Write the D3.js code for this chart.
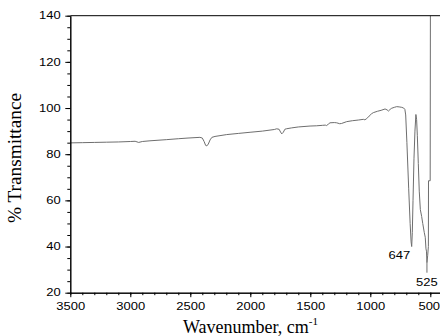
<!DOCTYPE html>
<meta charset="utf-8">
<head>
  <title>IR spectrum</title>
</head>
<style>
body { margin: 0; background: #fff; }
.axis text { font-family: "Liberation Sans", Arial, sans-serif; font-size: 10px; fill: #000; }
.axis path, .axis line { stroke: #000; }
.title { font-family: "Liberation Serif", "Times New Roman", serif; fill: #000; }
.peak { font-family: "Liberation Sans", Arial, sans-serif; font-size: 10px; fill: #000; }
</style>
<body>
<svg width="440" height="336"></svg>

<script src="https://cdnjs.cloudflare.com/ajax/libs/d3/7.8.5/d3.min.js"></script>
<script>
  // spectrum
  var wavenumber = [
    3500, 3400, 3300, 3200, 3100, 3000, 2960, 2930, 2900, 2836,
    2700, 2600, 2519, 2420, 2400, 2385, 2372, 2362, 2350, 2335,
    2320, 2294, 2197, 2100, 2002, 1900, 1800, 1780, 1760, 1748,
    1738, 1725, 1712, 1700, 1655, 1600, 1502, 1450, 1400, 1375,
    1365, 1350, 1336, 1300, 1280, 1255, 1240, 1197, 1150, 1100,
    1058, 1045, 1030, 1010, 990, 975, 940, 910, 877, 860,
    849, 835, 822, 800, 780, 760, 738, 722, 712, 705,
    695, 680, 668, 660, 655, 650, 644, 636, 628, 620,
    614, 608, 600, 592, 583, 572, 563, 550, 542, 536,
    532, 528, 522, 516, 515, 501, 499
  ];
  var transmittance = [
    84.9, 85.0, 85.1, 85.2, 85.3, 85.5, 85.6, 85.1, 85.5, 85.8,
    86.3, 86.7, 87.0, 87.3, 87.0, 85.5, 83.8, 83.6, 84.4, 86.2,
    87.3, 87.7, 88.5, 89.0, 89.5, 90.0, 90.7, 91.0, 90.8, 89.6,
    88.8, 89.5, 90.8, 91.0, 91.4, 91.8, 92.2, 92.3, 92.5, 92.6,
    92.4, 93.0, 93.6, 93.7, 93.6, 93.2, 93.3, 94.1, 94.5, 94.8,
    95.1, 94.9, 95.4, 96.5, 97.5, 98.0, 98.6, 99.0, 99.6, 99.2,
    98.7, 99.4, 99.9, 100.3, 100.6, 100.5, 100.3, 100.0, 99.4, 97.0,
    85, 65, 50, 42, 40, 46, 60, 78, 90, 97.2,
    95, 88, 76, 64, 56, 53, 50, 46, 44, 39,
    38, 33, 36, 40, 68.5, 68.5, 150
  ];

  var xTicks = [3500, 3000, 2500, 2000, 1500, 1000, 500];
  var yTicks = [20, 40, 60, 80, 100, 120, 140];
  var peakText = ["647", "525"];
  var peakWave = [655, 528];
  var peakValue = [40, 33];

  var svg = d3.select("svg");

  var x = d3.scaleLinear().domain([3500, 400]).range([70.3, 442.3]);
  var y = d3.scaleLinear().domain([20, 140]).range([292.7, 15.7]);

  svg.append("clipPath").attr("id", "plot")
    .append("rect")
    .attr("x", x(3500)).attr("y", y(140))
    .attr("width", 440 - x(3500)).attr("height", y(20) - y(140));

  // spectrum
  var pts = wavenumber.map(function(w, i) { return [w, transmittance[i]]; });
  var line = d3.line().x(function(d) { return x(d[0]); }).y(function(d) { return y(d[1]); });
  svg.append("path")
    .datum(pts)
    .attr("clip-path", "url(#plot)")
    .attr("d", line)
    .attr("fill", "none")
    .attr("stroke", "#6e6e6e")
    .attr("stroke-width", 1);

  // minor ticks
  svg.append("g").attr("class", "axis")
    .attr("transform", "translate(0," + y(20) + ")")
    .call(d3.axisBottom(x).tickValues(d3.range(3500, 399, -100)).tickSize(2.5).tickSizeOuter(0).tickFormat(""));
  svg.append("g").attr("class", "axis")
    .attr("transform", "translate(" + x(3500) + ",0)")
    .call(d3.axisLeft(y).tickValues(d3.range(20, 141, 5)).tickSize(3).tickSizeOuter(0).tickFormat(""));

  // major ticks
  var xAxis = svg.append("g").attr("class", "axis")
    .attr("transform", "translate(0," + y(20) + ")")
    .call(d3.axisBottom(x).tickValues(xTicks).tickSize(4.5).tickSizeOuter(0).tickFormat(d3.format("d")));
  xAxis.selectAll("text").attr("y", 17).attr("dy", null).attr("transform", "scale(1.3,1)")
    .attr("x", function(d) { return d === 500 ? -1.2 : 0; });

  var yAxis = svg.append("g").attr("class", "axis")
    .attr("transform", "translate(" + x(3500) + ",0)")
    .call(d3.axisLeft(y).tickValues(yTicks).tickSize(5).tickSizeOuter(0).tickFormat(d3.format("d")));
  yAxis.selectAll("text").attr("x", -7.4).attr("transform", "scale(1.3,1)");

  // top frame line
  svg.append("line")
    .attr("x1", x(3500)).attr("x2", 440)
    .attr("y1", y(140)).attr("y2", y(140))
    .attr("stroke", "#000");

  // axis titles
  svg.append("text").attr("class", "title")
    .attr("transform", "translate(21,158) rotate(-90)")
    .attr("text-anchor", "middle")
    .attr("font-size", 18)
    .attr("textLength", 130)
    .attr("lengthAdjust", "spacingAndGlyphs")
    .text("% Transmittance");

  var xt = svg.append("text").attr("class", "title")
    .attr("x", 183).attr("y", 333)
    .attr("font-size", 18);
  xt.append("tspan").text("Wavenumber, cm");
  xt.append("tspan").attr("font-size", 11).attr("dy", -8).text("-1");

  // peak labels
  svg.append("text").attr("class", "peak")
    .attr("text-anchor", "end")
    .attr("transform", "translate(" + (x(peakWave[0]) - 1.5) + "," + (y(peakValue[0]) + 12) + ") scale(1.3,1)")
    .text(peakText[0]);

  svg.append("line")
    .attr("x1", x(peakWave[1])).attr("x2", x(peakWave[1]))
    .attr("y1", y(peakValue[1])).attr("y2", y(peakValue[1]) + 10)
    .attr("stroke", "#6e6e6e");
  svg.append("text").attr("class", "peak")
    .attr("text-anchor", "middle")
    .attr("transform", "translate(" + x(peakWave[1]) + "," + (y(peakValue[1]) + 23) + ") scale(1.3,1)")
    .text(peakText[1]);
</script>
</body>
</html>
